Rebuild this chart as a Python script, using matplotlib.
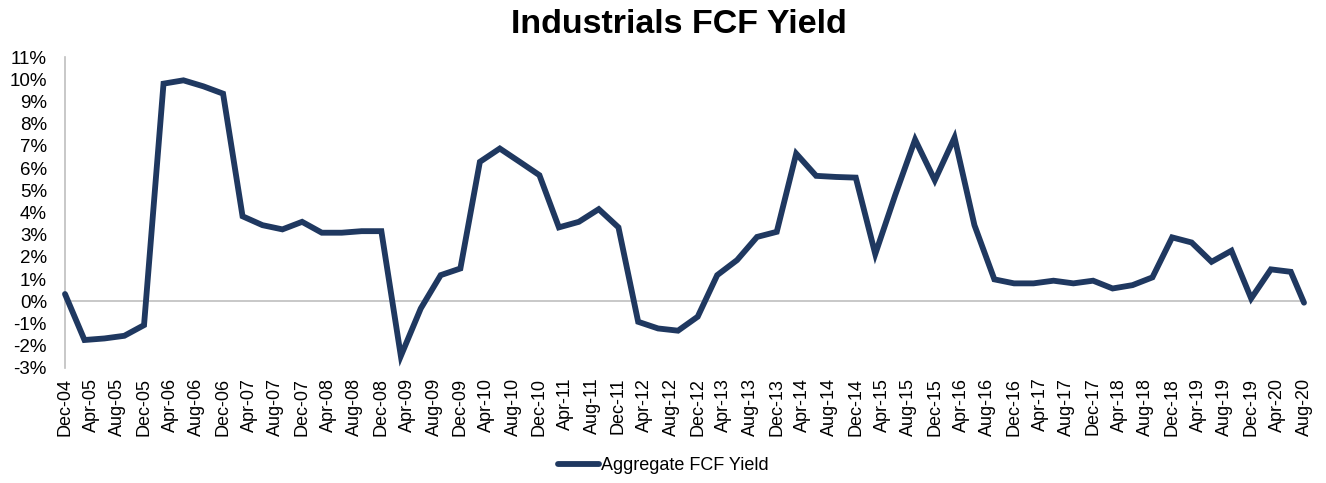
import numpy as np
import pandas as pd
import matplotlib
matplotlib.use("Agg")
import matplotlib.pyplot as plt
import matplotlib.dates as mdates
from matplotlib.ticker import FuncFormatter

plt.rcParams['font.family'] = ['Liberation Sans', 'DejaVu Sans']

# quarterly points from Dec-04 to Jun-20, then the latest point Aug-20
dates = list(pd.date_range('2004-12-01', '2020-06-01', freq='3MS')) + [pd.Timestamp('2020-08-01')]

fcf_yield = [0.33, -1.74, -1.67, -1.55, -1.07, 9.80, 9.95, 9.68, 9.35, 3.83,
             3.43, 3.24, 3.58, 3.09, 3.09, 3.16, 3.16, -2.46, -0.32, 1.18,
             1.48, 6.28, 6.88, 6.28, 5.68, 3.33, 3.58, 4.15, 3.33, -0.92,
             -1.22, -1.32, -0.69, 1.18, 1.86, 2.90, 3.13, 6.65, 5.65, 5.60,
             5.57, 2.13, 4.78, 7.28, 5.45, 7.37, 3.43, 0.99, 0.81, 0.81,
             0.93, 0.81, 0.93, 0.58, 0.73, 1.08, 2.88, 2.65, 1.78, 2.28,
             0.13, 1.44, 1.33, -0.06]

tick_dates = pd.date_range('2004-12-01', '2020-08-01', freq='4MS')
y_ticks = list(range(-3, 12))

line_color = '#1f3860'

fig = plt.figure(figsize=(13.26, 4.83), dpi=100)
ax = fig.add_axes([65 / 1326, 1 - 368 / 483, (1304 - 65) / 1326, (368 - 57) / 483])

ax.plot(dates, fcf_yield, color=line_color, lw=4.2, label='Aggregate FCF Yield',
        solid_joinstyle='miter', solid_capstyle='round', clip_on=False, zorder=3)
ax.axhline(0, color='#bfbfbf', lw=1.2, zorder=0)

ax.set_xlim(dates[0], dates[-1])
ax.set_ylim(-3, 11)
ax.set_yticks(y_ticks)
ax.yaxis.set_major_formatter(FuncFormatter(lambda v, p: '%d%%' % v))
ax.set_xticks(tick_dates)
ax.xaxis.set_major_formatter(mdates.DateFormatter('%b-%y'))
ax.tick_params(axis='x', length=0, pad=7, labelsize=13, labelrotation=90)
ax.tick_params(axis='y', length=0, pad=13, labelsize=13.5)

for s in ['top', 'right', 'bottom']:
    ax.spines[s].set_visible(False)
ax.spines['left'].set_color('#bfbfbf')
ax.spines['left'].set_linewidth(1.2)

fig.text(0.512, 0.95, 'Industrials FCF Yield', ha='center', va='center',
         fontsize=24.5, fontweight='bold')

fig.legend(loc='center', bbox_to_anchor=(0.5, 1 - 466 / 483), frameon=False,
           fontsize=13, handlelength=2.3, handletextpad=0.1)

fig.savefig('out.png', dpi=100)
